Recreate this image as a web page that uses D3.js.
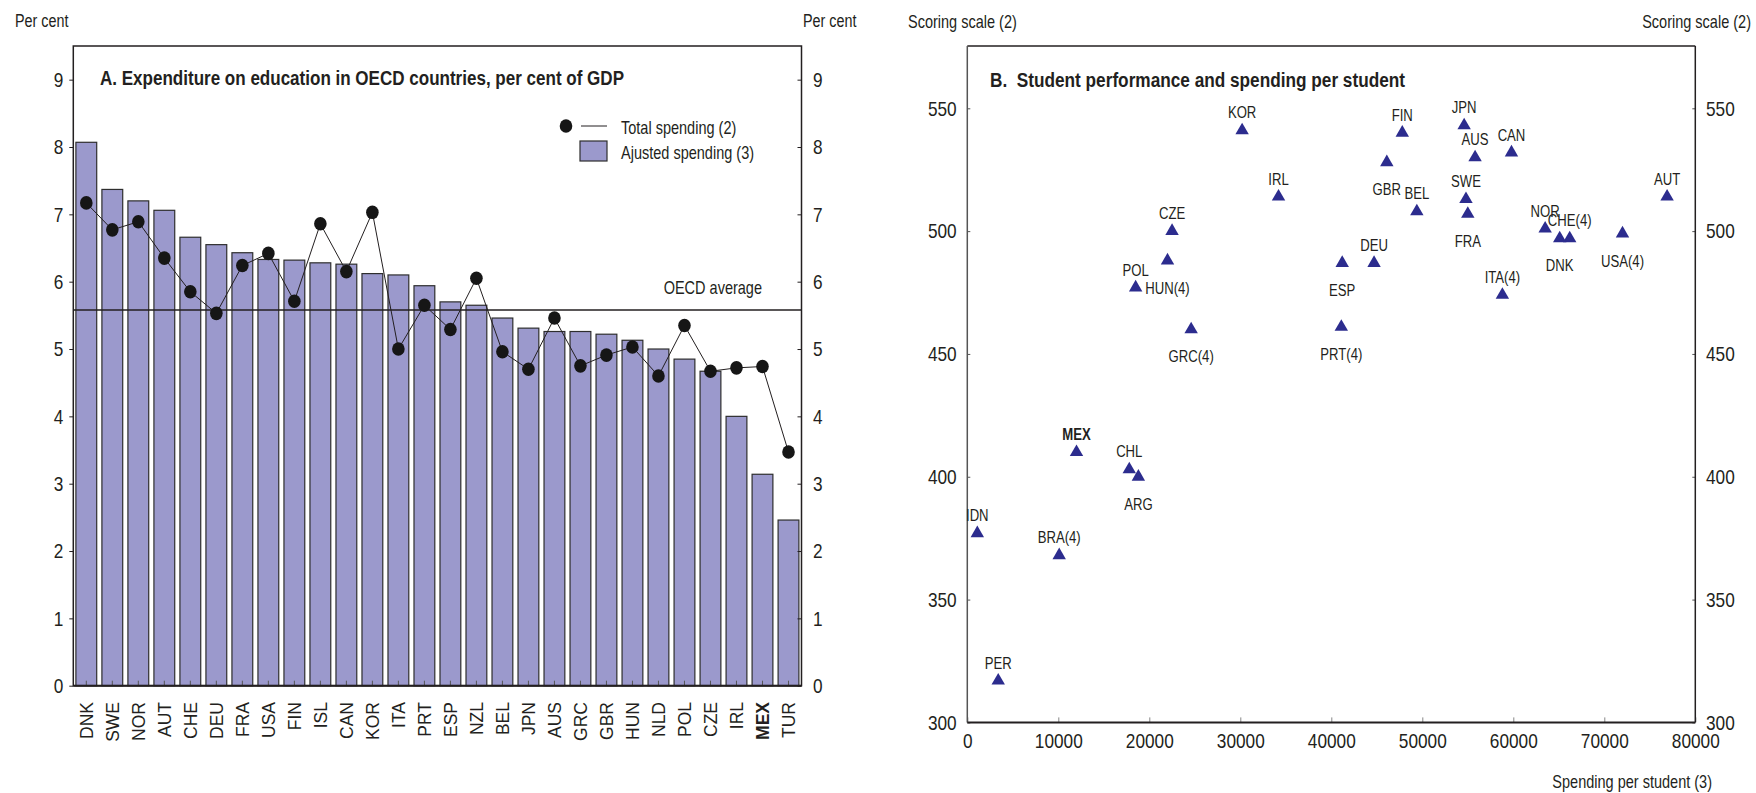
<!DOCTYPE html>
<html><head><meta charset="utf-8">
<script src="https://cdn.jsdelivr.net/npm/d3@7"></script>
<style>
html,body{margin:0;padding:0;background:#fff;}
svg{display:block;}
text{font-family:"Liberation Sans", Arial, Helvetica, sans-serif; fill:#231f20;}
</style></head><body>
<svg id="chart" width="1756" height="793"></svg>
<script>
// ---------------- DATA ----------------
// Panel A
const countries = ["DNK","SWE","NOR","AUT","CHE","DEU","FRA","USA","FIN","ISL","CAN","KOR","ITA","PRT","ESP","NZL","BEL","JPN","AUS","GRC","GBR","HUN","NLD","POL","CZE","IRL","MEX","TUR"];
const adjustedSpending = [8.07,7.37,7.20,7.06,6.66,6.55,6.43,6.33,6.32,6.28,6.26,6.12,6.10,5.94,5.70,5.65,5.46,5.31,5.26,5.26,5.22,5.13,5.00,4.85,4.67,4.00,3.14,2.46];
const totalSpending    = [7.17,6.77,6.89,6.35,5.85,5.53,6.24,6.42,5.71,6.86,6.15,7.03,5.00,5.65,5.29,6.05,4.96,4.70,5.46,4.75,4.91,5.03,4.60,5.35,4.67,4.72,4.74,3.47];
const oecdAverage = 5.58;
const percentTicks = [0,1,2,3,4,5,6,7,8,9];

// Panel B
const scatterCountries   = ["KOR","FIN","JPN","AUS","CAN","GBR","IRL","SWE","AUT","BEL","FRA","NOR","CHE(4)","DNK","USA(4)","CZE","HUN(4)","POL","GRC(4)","ESP","PRT(4)","DEU","ITA(4)","MEX","CHL","ARG","IDN","BRA(4)","PER"];
const spendingPerStudent = [30200,47800,54600,55800,59800,46100,34200,54800,76900,49400,55000,63500,66200,65100,72000,22500,22000,18500,24600,41200,41100,44700,58800,12000,17800,18800,1100,10100,3400];
const studentScores      = [541,540,543,530,532,528,514,513,514,508,507,501,497,497,499,500,488,477,460,487,461,487,474,410,403,400,377,368,317];
const labelSide          = ["above","above","above","above","above","below","above","above","above","above","below","above","above","below","below","above","below","above","below","below","below","above","above","above","above","below","above","above","above"];
const scoreTicks = [300,350,400,450,500,550];
const spendingTicks = [0,10000,20000,30000,40000,50000,60000,70000,80000];

// ---------------- HELPERS ----------------
const svg = d3.select("#chart");
const INK = "#231f20";
function narrow(sel, f){
  f = f || 0.82;
  sel.each(function(){
    const w = this.getComputedTextLength();
    if (w > 0){
      this.setAttribute("textLength", (w*f).toFixed(2));
      this.setAttribute("lengthAdjust","spacingAndGlyphs");
    }
  });
  return sel;
}
function fitWidth(sel, width){
  return sel.attr("textLength", width).attr("lengthAdjust","spacingAndGlyphs");
}

// ---------------- PANEL A ----------------
const A = {left:73.3, right:801.5, top:46, bottom:685.7};
const xBand = d3.scaleBand().domain(countries).range([A.left, A.right]).paddingInner(0.2).paddingOuter(0.1);
const yPct = d3.scaleLinear().domain([0, 9.5]).range([A.bottom, A.top]);
const gA = svg.append("g");

// bars
gA.append("g").selectAll("rect").data(countries).join("rect")
  .attr("x", d => xBand(d))
  .attr("y", (d,i) => yPct(adjustedSpending[i]))
  .attr("width", xBand.bandwidth())
  .attr("height", (d,i) => yPct(0) - yPct(adjustedSpending[i]))
  .attr("fill", "#9b99cc")
  .attr("stroke", "#2e2e2e")
  .attr("stroke-width", 1.2);

// bottom axis (ticks inward + rotated labels)
const axA = gA.append("g").attr("transform", `translate(0,${A.bottom})`)
  .call(d3.axisBottom(xBand).tickSize(-5).tickSizeOuter(0));
axA.select(".domain").remove();
axA.selectAll(".tick line").attr("stroke", "#555").attr("stroke-width", 1);
axA.selectAll(".tick text")
  .attr("transform", "rotate(-90)")
  .attr("x", -16.3).attr("y", 0).attr("dy", "0.36em")
  .attr("text-anchor", "end")
  .attr("font-size", 17.5)
  .attr("font-family", '"Liberation Sans", Arial, sans-serif')
  .attr("fill", INK)
  .attr("font-weight", d => d === "MEX" ? "bold" : "normal");

// left axis
const axAL = gA.append("g").attr("transform", `translate(${A.left},0)`)
  .call(d3.axisLeft(yPct).tickValues(percentTicks).tickSize(4).tickPadding(6).tickFormat(d3.format("d")));
axAL.select(".domain").remove();
axAL.selectAll(".tick line").attr("stroke", INK);
axAL.selectAll(".tick text").attr("font-size", 21).attr("font-family", null).attr("fill", INK).call(narrow);

// right axis
const axAR = gA.append("g").attr("transform", `translate(${A.right},0)`)
  .call(d3.axisRight(yPct).tickValues(percentTicks).tickSize(-4).tickPadding(11.5).tickFormat(d3.format("d")));
axAR.select(".domain").remove();
axAR.selectAll(".tick line").attr("stroke", INK);
axAR.selectAll(".tick text").attr("font-size", 21).attr("font-family", null).attr("fill", INK).call(narrow);

// frame
gA.append("rect").attr("x", A.left).attr("y", A.top).attr("width", A.right - A.left).attr("height", A.bottom - A.top)
  .attr("fill", "none").attr("stroke", INK).attr("stroke-width", 1.5);
gA.append("line").attr("x1", A.left).attr("x2", A.right).attr("y1", A.bottom).attr("y2", A.bottom)
  .attr("stroke", INK).attr("stroke-width", 2);

// OECD average
gA.append("line").attr("x1", A.left).attr("x2", A.right)
  .attr("y1", yPct(oecdAverage)).attr("y2", yPct(oecdAverage))
  .attr("stroke", INK).attr("stroke-width", 1.5);
gA.append("text").attr("x", 762).attr("y", yPct(oecdAverage) - 16)
  .attr("text-anchor", "end").attr("font-size", 17.7).text("OECD average").call(narrow);

// total spending line + dots
const cx = d => xBand(d) + xBand.bandwidth()/2;
gA.append("path").datum(countries)
  .attr("d", d3.line().x(d => cx(d)).y((d,i) => yPct(totalSpending[i])))
  .attr("fill", "none").attr("stroke", INK).attr("stroke-width", 1);
gA.append("g").selectAll("ellipse").data(countries).join("ellipse")
  .attr("cx", d => cx(d)).attr("cy", (d,i) => yPct(totalSpending[i]))
  .attr("rx", 6.3).attr("ry", 6.8).attr("fill", "#161616");

// titles / labels
svg.append("text").attr("x", 15).attr("y", 27).attr("font-size", 17.5).text("Per cent").call(narrow);
svg.append("text").attr("x", 803).attr("y", 27).attr("font-size", 17.5).text("Per cent").call(narrow);
svg.append("text").attr("x", 100).attr("y", 85).attr("font-size", 20).attr("font-weight", "bold")
  .text("A. Expenditure on education in OECD countries, per cent of GDP").call(fitWidth, 524);

// legend
gA.append("ellipse").attr("cx", 566).attr("cy", 126).attr("rx", 6.3).attr("ry", 6.8).attr("fill", "#161616");
gA.append("line").attr("x1", 581).attr("x2", 607).attr("y1", 126).attr("y2", 126).attr("stroke", INK).attr("stroke-width", 1);
gA.append("text").attr("x", 621).attr("y", 133.5).attr("font-size", 17.7).text("Total spending (2)").call(narrow);
gA.append("rect").attr("x", 580).attr("y", 141).attr("width", 27).attr("height", 20)
  .attr("fill", "#9b99cc").attr("stroke", "#2e2e2e").attr("stroke-width", 1.2);
gA.append("text").attr("x", 621).attr("y", 159).attr("font-size", 17.7).text("Ajusted spending (3)").call(narrow);

// ---------------- PANEL B ----------------
const B = {left:967.3, right:1695.3, top:46, bottom:722.4};
const xS = d3.scaleLinear().domain([0, 80000]).range([B.left, B.right]);
const yS = d3.scaleLinear().domain([300, 550]).range([B.bottom, 108.3]);
const gB = svg.append("g");

const axBL = gB.append("g").attr("transform", `translate(${B.left},0)`)
  .call(d3.axisLeft(yS).tickValues(scoreTicks).tickSize(-3).tickPadding(10.6).tickFormat(d3.format("d")));
axBL.select(".domain").remove();
axBL.selectAll(".tick line").attr("stroke", "#555");
axBL.selectAll(".tick text").attr("font-size", 21).attr("font-family", null).attr("fill", INK).call(narrow);

const axBR = gB.append("g").attr("transform", `translate(${B.right},0)`)
  .call(d3.axisRight(yS).tickValues(scoreTicks).tickSize(-3).tickPadding(10.7).tickFormat(d3.format("d")));
axBR.select(".domain").remove();
axBR.selectAll(".tick line").attr("stroke", "#555");
axBR.selectAll(".tick text").attr("font-size", 21).attr("font-family", null).attr("fill", INK).call(narrow);

const axBB = gB.append("g").attr("transform", `translate(0,${B.bottom})`)
  .call(d3.axisBottom(xS).tickValues(spendingTicks).tickSize(-5).tickPadding(10.7).tickFormat(d3.format("d")));
axBB.select(".domain").remove();
axBB.selectAll(".tick line").attr("stroke", "#888");
axBB.selectAll(".tick text").attr("font-size", 21).attr("font-family", null).attr("fill", INK).call(narrow);

// frame
gB.append("line").attr("x1", B.left).attr("x2", B.right).attr("y1", B.top).attr("y2", B.top).attr("stroke", INK).attr("stroke-width", 1.5);
gB.append("line").attr("x1", B.left).attr("x2", B.left).attr("y1", B.top).attr("y2", B.bottom).attr("stroke", "#555").attr("stroke-width", 1.5);
gB.append("line").attr("x1", B.right).attr("x2", B.right).attr("y1", B.top).attr("y2", B.bottom).attr("stroke", INK).attr("stroke-width", 1.5);
gB.append("line").attr("x1", B.left).attr("x2", B.right).attr("y1", B.bottom).attr("y2", B.bottom).attr("stroke", INK).attr("stroke-width", 2);

// points
const tri = d3.symbol().type(d3.symbolTriangle).size(78);
gB.append("g").selectAll("path").data(scatterCountries).join("path")
  .attr("d", tri)
  .attr("transform", (d,i) => `translate(${xS(spendingPerStudent[i])},${yS(studentScores[i])})`)
  .attr("fill", "#2c2c8e");

// point labels
gB.append("g").selectAll("text").data(scatterCountries).join("text")
  .attr("x", (d,i) => xS(spendingPerStudent[i]))
  .attr("y", (d,i) => yS(studentScores[i]) + (labelSide[i] === "above" ? -12 : 33))
  .attr("text-anchor", "middle")
  .attr("font-size", 16)
  .attr("font-weight", d => d === "MEX" ? "bold" : "normal")
  .text(d => d)
  .call(narrow);

// titles / labels
svg.append("text").attr("x", 908).attr("y", 27.5).attr("font-size", 17.7).text("Scoring scale (2)").call(narrow);
svg.append("text").attr("x", 1751).attr("y", 27.5).attr("text-anchor", "end").attr("font-size", 17.7).text("Scoring scale (2)").call(narrow);
svg.append("text").attr("x", 990).attr("y", 87).attr("font-size", 20).attr("font-weight", "bold").attr("xml:space", "preserve")
  .style("white-space", "pre")
  .text("B.  Student performance and spending per student").call(fitWidth, 415);
svg.append("text").attr("x", 1712).attr("y", 788).attr("text-anchor", "end").attr("font-size", 17.7)
  .text("Spending per student (3)").call(narrow);
</script>
</body></html>
